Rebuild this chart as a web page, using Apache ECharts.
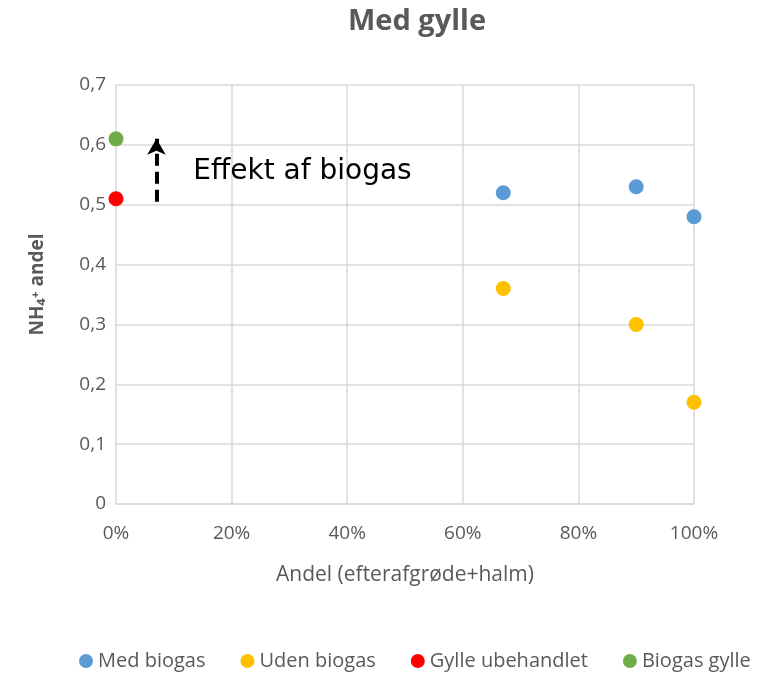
<!DOCTYPE html>
<html>
<head>
<meta charset="utf-8">
<script src="https://cdn.jsdelivr.net/npm/echarts@6/dist/echarts.min.js"></script>
<style>
  html, body { margin: 0; padding: 0; background: #fff; }
  #chart { width: 759px; height: 675px; }
</style>
</head>
<body>
<div id="chart"></div>
<script>
// andel (%) , NH4+ andel
const medBiogas = [[67, 0.52], [90, 0.53], [100, 0.48]]
const udenBiogas = [[67, 0.36], [90, 0.30], [100, 0.17]]
const gylleUbehandlet = [[0, 0.51]]
const biogasGylle = [[0, 0.61]]
const arrowFrom = [7, 0.505]
const arrowTo = [7, 0.61]
const labelPos = [12.5, 0.555]

const grey = '#595959'
const font = '"Open Sans", sans-serif'

const chart = echarts.init(document.getElementById('chart'))
chart.setOption({
  animation: false,
  title: {
    text: 'Med gylle',
    left: 412,
    top: 2,
    textAlign: 'center',
    textStyle: { fontSize: 29, fontWeight: 'bold', color: grey, fontFamily: font },
  },
  grid: { left: 116, right: 65, top: 85, bottom: 171 },
  legend: {
    bottom: 4,
    left: 79,
    width: 690,
    padding: 0,
    icon: 'circle',
    itemWidth: 14,
    itemHeight: 14,
    itemGap: 35,
    textStyle: { fontSize: 20, color: grey, fontFamily: font },
    data: ['Med biogas', 'Uden biogas', 'Gylle ubehandlet', 'Biogas gylle'],
  },
  xAxis: {
    type: 'value',
    min: 0,
    max: 100,
    interval: 20,
    name: 'Andel (efterafgrøde+halm)',
    nameLocation: 'middle',
    nameGap: 61,
    nameTextStyle: { fontSize: 21, color: grey, fontFamily: font },
    axisLine: { show: true, lineStyle: { color: '#d9d9d9', width: 1.5 } },
    axisTick: { show: false },
    splitLine: { lineStyle: { color: '#d9d9d9', width: 1.5 } },
    axisLabel: { formatter: '{value}%', fontSize: 19, color: grey, fontFamily: font, margin: 20 },
  },
  yAxis: {
    type: 'value',
    min: 0,
    max: 0.7,
    interval: 0.1,
    name: 'NH₄⁺ andel',
    nameLocation: 'middle',
    nameGap: 69,
    nameTextStyle: { fontSize: 19, color: grey, fontFamily: font, fontWeight: 'bold', padding: [0, 0, 0, 20] },
    axisLine: { show: false },
    axisTick: { show: false },
    splitLine: { lineStyle: { color: '#d9d9d9', width: 1.5 } },
    axisLabel: {
      formatter: v => v === 0 ? '0' : v.toFixed(1).replace('.', ','),
      fontSize: 19, color: grey, fontFamily: font, margin: 10,
    },
  },
  series: [
    {
      name: 'Med biogas', type: 'scatter', symbolSize: 15, data: medBiogas,
      itemStyle: { color: '#5B9BD5', opacity: 1 },
    },
    {
      name: 'Uden biogas', type: 'scatter', symbolSize: 15, data: udenBiogas,
      itemStyle: { color: '#FFC000', opacity: 1 },
    },
    {
      name: 'Gylle ubehandlet', type: 'scatter', symbolSize: 15, data: gylleUbehandlet,
      itemStyle: { color: '#FF0000', opacity: 1 },
      markLine: {
        silent: true,
        symbol: ['none', 'arrow'],
        symbolSize: [14, 16],
        label: { show: false },
        lineStyle: { color: '#000', type: [12, 6], width: 4 },
        data: [[{ coord: arrowFrom }, { coord: arrowTo }]],
      },
    },
    {
      name: 'Biogas gylle', type: 'scatter', symbolSize: 15, data: biogasGylle,
      itemStyle: { color: '#70AD47', opacity: 1 },
      markPoint: {
        silent: true,
        symbol: 'circle',
        symbolSize: 0,
        label: {
          show: true,
          position: 'right',
          formatter: 'Effekt af biogas',
          color: '#000',
          fontSize: 28,
          fontFamily: '"DejaVu Sans", sans-serif',
        },
        data: [{ coord: labelPos }],
      },
    },
  ],
})
</script>
</body>
</html>
